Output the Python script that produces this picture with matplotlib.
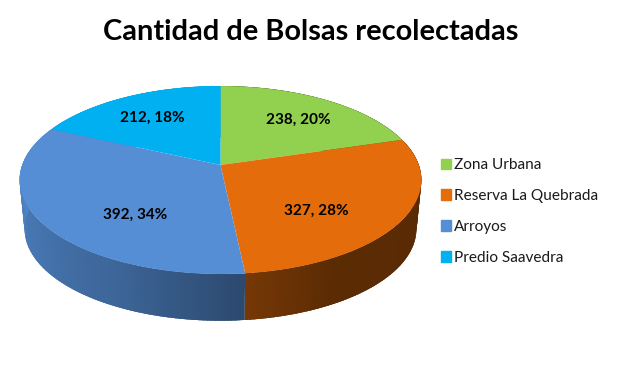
import numpy as np
import matplotlib
matplotlib.use("Agg")
import matplotlib.pyplot as plt
from matplotlib.collections import PolyCollection
from matplotlib.transforms import Transform

categories = ["Zona Urbana", "Reserva La Quebrada", "Arroyos", "Predio Saavedra"]
values = [238, 327, 392, 212]
percents = [20, 28, 34, 18]
colors = ["#92D050", "#E46C0A", "#558ED5", "#00B0F0"]
label_xy = [(298, 120), (316, 211), (135, 215), (152, 118)]

plt.rcParams["font.family"] = ["Lato", "DejaVu Sans"]

# layout of the tilted pie, in pixels
CX, CY, K, A, B, C = 220.5, 180.0, 0.16, 94.0, 15.0, 198.3
RIM_S, RIM_D = 0.975, 49.0


def project(x, y):
    w = 1 + K * y
    return CX + C * x / w, CY - (A * y + B) / w


class Tilt(Transform):
    input_dims = output_dims = 2
    has_inverse = False
    is_separable = False

    def transform_non_affine(self, xy):
        xy = np.asarray(xy, float)
        px, py = project(xy[:, 0], xy[:, 1])
        return np.column_stack([px, py])


fig = plt.figure(figsize=(6.21, 3.67), dpi=100, facecolor="white")
ax = fig.add_axes([0, 0, 1, 1])

wedges, _ = ax.pie(values, colors=colors, startangle=90, counterclock=False,
                   wedgeprops={"linewidth": 0, "zorder": 2})
ax.set_aspect("auto")
ax.set_xlim(0, 621)
ax.set_ylim(367, 0)
ax.axis("off")
tilt = Tilt() + ax.transData
for w in wedges:
    w.set_transform(tilt)
    w.set_clip_on(False)

# side wall, coloured per slice and shaded by angle; each strip overlaps the next
edges = np.cumsum([0] + values) / sum(values) * 360
quads, qcols = [], []
for i, col in enumerate(colors):
    rgb = np.array(matplotlib.colors.to_rgb(col))
    th = np.arange(edges[i], edges[i + 1], 1.0)
    for t0 in th:
        t1 = min(t0 + 2.5, edges[i + 1])
        ang = np.radians(np.linspace(t0, t1, 4))
        xa, ya = project(np.sin(ang), np.cos(ang))
        xb = CX + (xa - CX) * RIM_S
        yb = CY + (ya - CY) * RIM_S + RIM_D
        quads.append(np.column_stack([np.r_[xa, xb[::-1]], np.r_[ya, yb[::-1]]]))
        if i == 1:
            s = np.interp(t0, [70, 150, edges[2]], [0.38, 0.40, 0.52])
        else:
            s = np.interp(t0, [edges[2], 207, 270], [0.52, 0.72, 0.92])
        qcols.append(rgb * s)
ax.add_collection(PolyCollection(quads, facecolors=qcols, edgecolors="none",
                                 linewidths=0, zorder=1))

for v, p, (x, y) in zip(values, percents, label_xy):
    ax.text(x, y, f"{v}, {p}%", ha="center", va="center", fontsize=11,
            fontweight="bold", color="black", zorder=3)

ax.text(310.5, 32, "Cantidad de Bolsas recolectadas", ha="center", va="center",
        fontsize=20.85, fontweight="bold", color="black")

handles = [plt.Rectangle((0, 0), 1, 1, color=c) for c in colors]
leg = ax.legend(handles, categories, loc="center left",
                bbox_to_anchor=(441 / 621, 1 - 211.5 / 367), frameon=False,
                fontsize=11.1, handlelength=0.65, handleheight=0.65,
                handletextpad=0.2, labelspacing=1.10, borderpad=0, borderaxespad=0,
                labelcolor="#1a1a1a")

fig.savefig("out.png", dpi=100, facecolor="white")
